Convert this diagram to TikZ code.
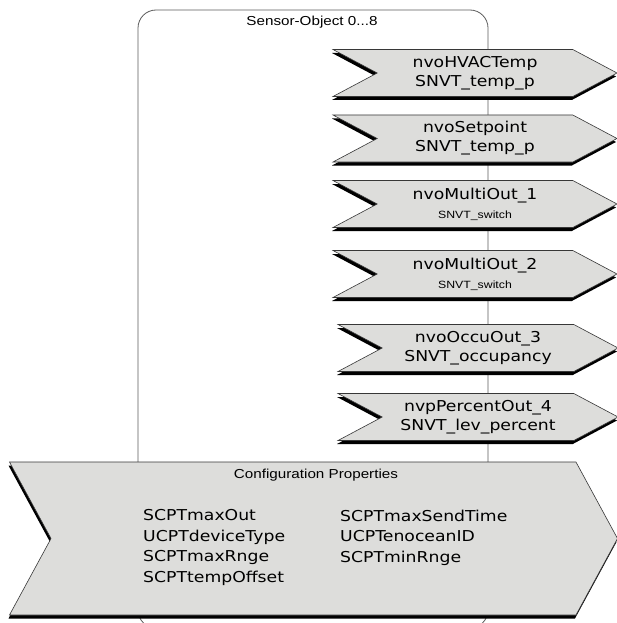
\documentclass[tikz,border=0pt]{standalone}
\usepackage{fontspec}
\newfontfamily\netfont[FakeStretch=1.15]{DejaVu Sans}
\newfontfamily\labelfont[FakeStretch=1.17]{Liberation Sans}
\usetikzlibrary{shapes.symbols,shadows}
\definecolor{boxgray}{RGB}{221,221,219}
\definecolor{edgegray}{RGB}{55,55,55}
\definecolor{wiregray}{RGB}{90,90,90}

\tikzset{
	netvar/.style={signal, signal from=west, signal to=east, signal pointer angle=56,
		draw=edgegray, line width=0.6pt, fill=boxgray, inner sep=0pt,
		minimum width=284pt, minimum height=47pt, align=center,
		font=\netfont\fontsize{15}{19}\selectfont,
		drop shadow={shadow xshift=-1pt, shadow yshift=-3.5pt, fill=black, opacity=1}},
	small/.style={font=\labelfont\fontsize{13}{15}\selectfont}
}
\newcommand{\typesmall}[1]{{\labelfont\fontsize{10.5}{12}\selectfont #1}}

\begin{document}
\begin{tikzpicture}[x=1pt,y=-1pt]
	\useasboundingbox (0,0) rectangle (617,623);

	\draw[wiregray, line width=0.8pt, rounded corners=18pt] (138,10) rectangle (488,628);
	\node (title)[small] at (312,22) {Sensor-Object 0...8};

	\node (A1)[netvar] at (475,73) {nvoHVACTemp\\SNVT\_temp\_p};
	\node (A2)[netvar] at (475,138.5) {nvoSetpoint\\SNVT\_temp\_p};
	\node (A3)[netvar] at (475,204) {nvoMultiOut\_1\\\typesmall{SNVT\_switch}};
	\node (A4)[netvar] at (475,274) {nvoMultiOut\_2\\\typesmall{SNVT\_switch}};
	\node (A5)[netvar, minimum width=280pt] at (478,348) {nvoOccuOut\_3\\SNVT\_occupancy};
	\node (A6)[netvar, minimum width=280pt] at (478,417) {nvpPercentOut\_4\\SNVT\_lev\_percent};

	\node (CP)[netvar, signal pointer angle=123, minimum width=608pt, minimum height=153pt] at (313.5,538.5) {};
	\node (CPtitle)[small] at (316,475) {Configuration Properties};

	\node (CPleft)[anchor=west, align=left, inner sep=0pt, font=\netfont\fontsize{15}{20.5}\selectfont] at (143,547.5)
		{SCPTmaxOut\\UCPTdeviceType\\SCPTmaxRnge\\SCPTtempOffset};
	\node (CPright)[anchor=west, align=left, inner sep=0pt, font=\netfont\fontsize{15}{20.5}\selectfont] at (340,537.5)
		{SCPTmaxSendTime\\UCPTenoceanID\\SCPTminRnge};

\end{tikzpicture}
\end{document}
